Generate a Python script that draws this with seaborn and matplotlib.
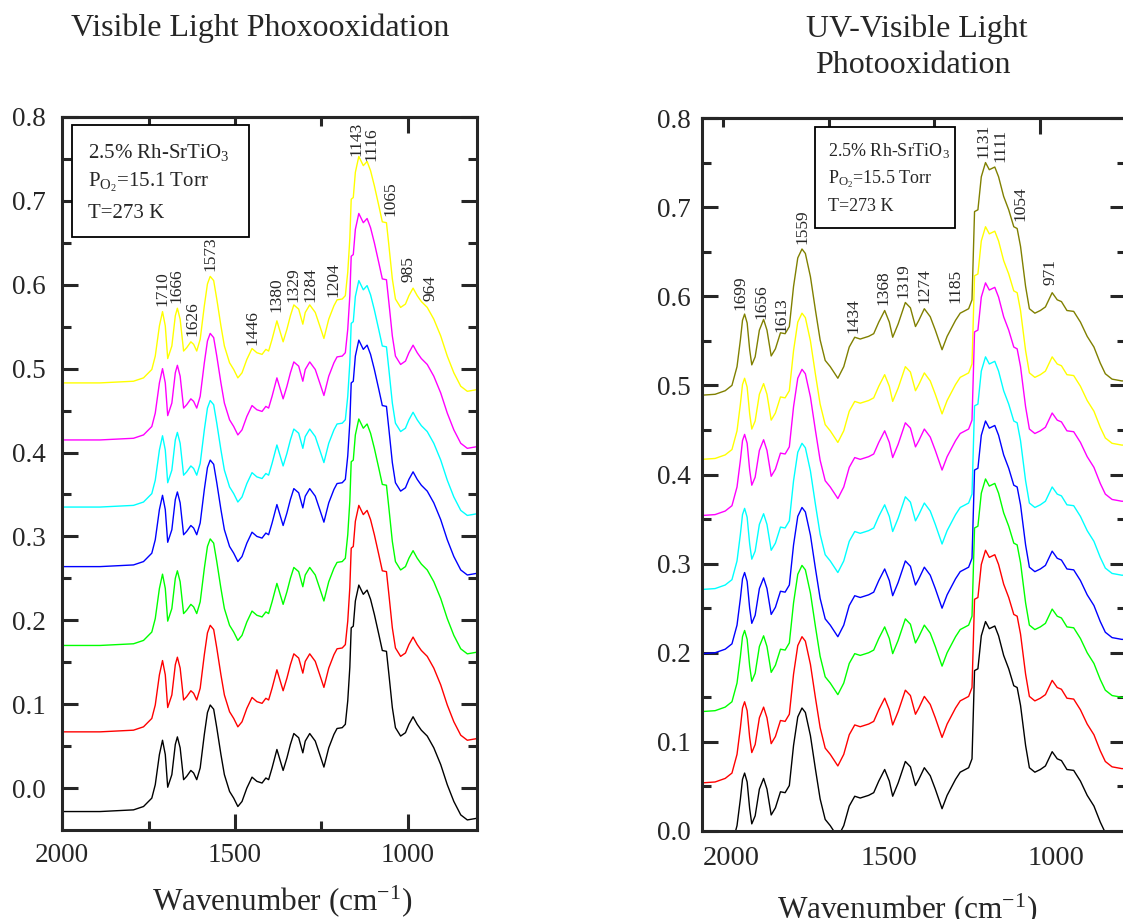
import numpy as np
import matplotlib
matplotlib.use('Agg')
import matplotlib.pyplot as plt
import seaborn as sns
from matplotlib.patches import Rectangle

# ---------------- data ----------------
# Left panel: visible light photooxidation (top spectrum, yellow)
left_wavenumber = [2000, 1891, 1794, 1765, 1741, 1731, 1719, 1710, 1702, 1695, 1683, 1673, 1667, 1659,
                   1649, 1640, 1628, 1620, 1611, 1601, 1589, 1580, 1572, 1562, 1553, 1541, 1531, 1516,
                   1504, 1492, 1480, 1466, 1451, 1437, 1422, 1411, 1403, 1393, 1379, 1361, 1350, 1340,
                   1330, 1316, 1304, 1297, 1284, 1268, 1255, 1243, 1229, 1214, 1205, 1190, 1181, 1174,
                   1168, 1164, 1158, 1152, 1142, 1129, 1118, 1108, 1097, 1084, 1074, 1062, 1055, 1045,
                   1036, 1021, 1007, 997, 985, 973, 961, 944, 925, 905, 886, 867, 847, 828, 800]
left_top_absorbance = [0.483, 0.483, 0.485, 0.489, 0.499, 0.515, 0.551, 0.568, 0.551, 0.512, 0.527, 0.563,
                       0.572, 0.559, 0.521, 0.525, 0.532, 0.529, 0.521, 0.535, 0.575, 0.601, 0.610, 0.605,
                       0.583, 0.551, 0.527, 0.507, 0.499, 0.489, 0.495, 0.511, 0.524, 0.519, 0.517, 0.523,
                       0.521, 0.535, 0.557, 0.532, 0.547, 0.563, 0.576, 0.571, 0.553, 0.567, 0.576, 0.567,
                       0.551, 0.536, 0.559, 0.575, 0.582, 0.583, 0.587, 0.615, 0.655, 0.702, 0.704, 0.734,
                       0.753, 0.742, 0.747, 0.736, 0.718, 0.694, 0.675, 0.674, 0.647, 0.607, 0.583, 0.573,
                       0.577, 0.587, 0.596, 0.587, 0.580, 0.573, 0.559, 0.539, 0.515, 0.495, 0.479, 0.473,
                       0.475]
left_colors = ['#ffff00', '#ff00ff', '#00ffff', '#0000ff', '#00ff00', '#ff0000', '#000000']
left_offsets = [0.0, -0.068, -0.148, -0.219, -0.313, -0.416, -0.511]
left_peak_labels = ['1710', '1666', '1626', '1573', '1446', '1380', '1329', '1284', '1204',
                    '1143', '1116', '1065', '985', '964']
left_peak_label_x = [1710, 1669, 1623, 1570, 1451, 1381, 1332, 1282, 1214, 1148, 1104, 1050, 997, 934]
left_peak_label_y = [0.575, 0.578, 0.539, 0.617, 0.528, 0.567, 0.579, 0.579, 0.586, 0.754, 0.748,
                     0.682, 0.603, 0.581]

# Right panel: UV-visible light photooxidation (top spectrum, olive)
right_wavenumber = [1800, 1769, 1745, 1729, 1717, 1709, 1704, 1699, 1693, 1687, 1682, 1674, 1664, 1654,
                    1646, 1636, 1626, 1614, 1603, 1593, 1583, 1573, 1563, 1555, 1543, 1531, 1520, 1508,
                    1496, 1478, 1464, 1451, 1438, 1425, 1405, 1393, 1381, 1367, 1356, 1348, 1335, 1318,
                    1306, 1294, 1286, 1273, 1259, 1247, 1231, 1219, 1199, 1188, 1176, 1168, 1160, 1154,
                    1146, 1138, 1128, 1119, 1106, 1097, 1085, 1073, 1061, 1053, 1045, 1033, 1024, 1011,
                    998, 986, 970, 958, 948, 935, 919, 903, 887, 871, 856, 844, 828, 805, 795]
right_top_absorbance = [0.489, 0.490, 0.494, 0.500, 0.521, 0.551, 0.573, 0.580, 0.570, 0.540, 0.523,
                        0.532, 0.562, 0.574, 0.562, 0.533, 0.541, 0.559, 0.558, 0.566, 0.611, 0.643,
                        0.653, 0.648, 0.622, 0.584, 0.551, 0.528, 0.521, 0.508, 0.521, 0.543, 0.554,
                        0.552, 0.555, 0.558, 0.571, 0.584, 0.571, 0.554, 0.569, 0.593, 0.587, 0.566,
                        0.573, 0.586, 0.577, 0.562, 0.540, 0.555, 0.573, 0.581, 0.584, 0.586, 0.596,
                        0.695, 0.697, 0.734, 0.750, 0.742, 0.745, 0.734, 0.712, 0.697, 0.678, 0.676,
                        0.656, 0.611, 0.586, 0.581, 0.584, 0.588, 0.604, 0.596, 0.594, 0.584, 0.583,
                        0.571, 0.555, 0.543, 0.525, 0.513, 0.507, 0.505, 0.505]
right_colors = ['#808000', '#ffff00', '#ff00ff', '#00ffff', '#0000ff', '#00ff00', '#ff0000', '#000000']
right_offsets = [0.0, -0.072, -0.135, -0.218, -0.290, -0.355, -0.435, -0.515]
right_peak_labels = ['1699', '1656', '1613', '1559', '1434', '1368', '1319', '1274', '1185',
                     '1131', '1111', '1054', '971']
right_peak_label_x = [1709, 1658, 1612, 1563, 1440, 1369, 1322, 1272, 1199, 1133, 1092, 1045, 974]
right_peak_label_y = [0.585, 0.575, 0.560, 0.659, 0.559, 0.590, 0.598, 0.592, 0.592, 0.755, 0.751,
                      0.684, 0.613]

y_tick_values = [0.0, 0.1, 0.2, 0.3, 0.4, 0.5, 0.6, 0.7, 0.8]
y_tick_labels = ['0.0', '0.1', '0.2', '0.3', '0.4', '0.5', '0.6', '0.7', '0.8']
left_x_tick_labels = ['2000', '1500', '1000']
right_x_tick_labels = ['2000', '1500', '1000']

# ---------------- style ----------------
W, H = 1123, 919
sns.set_style('ticks')
plt.rcParams['font.family'] = ['Liberation Serif', 'DejaVu Serif']
plt.rcParams['mathtext.fontset'] = 'custom'
plt.rcParams['mathtext.rm'] = 'Liberation Serif'
plt.rcParams['mathtext.it'] = 'Liberation Serif:italic'
plt.rcParams['mathtext.bf'] = 'Liberation Serif:bold'

fig = plt.figure(figsize=(W / 100, H / 100), dpi=100)


def rect(x0, y0, x1, y1):
    return [x0 / W, 1 - y1 / H, (x1 - x0) / W, (y1 - y0) / H]


axL = fig.add_axes(rect(62.3, 117, 477, 830))
axR = fig.add_axes(rect(702, 118, 1126, 831))

SPW = 2.2
MAJ, MIN = 11.5, 6.5


def draw_panel(ax, wn, top, colors, offsets):
    wn = np.asarray(wn, dtype=float)
    top = np.asarray(top, dtype=float)
    for c, off in zip(colors, offsets):
        sns.lineplot(x=wn, y=top + off, ax=ax, color=c, linewidth=1.0,
                     estimator=None, sort=False, legend=False)


draw_panel(axL, left_wavenumber, left_top_absorbance, left_colors, left_offsets)
draw_panel(axR, right_wavenumber, right_top_absorbance, right_colors, right_offsets)

for ax in (axL, axR):
    for s in ax.spines.values():
        s.set_linewidth(SPW)
        s.set_visible(True)
    ax.set_ylabel('')
    ax.set_xlabel('')
    ax.set_yticks(y_tick_values, y_tick_labels)
    ax.set_yticks(np.arange(0.05, 0.8, 0.1), minor=True)
    ax.tick_params(axis='y', which='both', direction='in', width=SPW, left=True, right=True,
                   labelsize=19.5)
    ax.tick_params(axis='y', which='major', length=MAJ)
    ax.tick_params(axis='y', which='minor', length=MIN)

# left panel axes
axL.set_xlim(2000, 800)
axL.set_ylim(-0.05, 0.8)
axL.set_xticks([2000, 1500, 1000], left_x_tick_labels)
axL.set_xticks([1750, 1250], minor=True)
axL.tick_params(axis='x', which='both', direction='in', width=SPW, top=False, bottom=True,
                labelsize=19.5, pad=9)
axL.tick_params(axis='x', which='major', length=MAJ)
axL.tick_params(axis='x', which='minor', length=MIN)
axL.tick_params(axis='y', pad=12)

# right panel axes
axR.set_xlim(1800, 795)
axR.set_ylim(0, 0.8)
axR.set_xticks([1730, 1357, 961], right_x_tick_labels)
axR.tick_params(axis='x', which='both', length=0, top=False, bottom=True, labelsize=20.5, pad=11)
axR.tick_params(axis='y', pad=8)

for ax in (axL, axR):
    sec = ax.secondary_xaxis('top')
    sec.set_xticks([1000])
    sec.set_xticks([1750, 1500, 1250], minor=True)
    sec.tick_params(axis='x', which='both', direction='in', width=SPW, labeltop=False)
    sec.tick_params(axis='x', which='major', length=MAJ)
    sec.tick_params(axis='x', which='minor', length=MIN)
    sec.spines['top'].set_linewidth(SPW)

# peak labels
for t, x, y in zip(left_peak_labels, left_peak_label_x, left_peak_label_y):
    axL.text(x, y, t, rotation=90, ha='center', va='bottom', fontsize=12.5, zorder=6)
for t, x, y in zip(right_peak_labels, right_peak_label_x, right_peak_label_y):
    axR.text(x, y, t, rotation=90, ha='center', va='bottom', fontsize=12.5, zorder=6)

# info boxes
axL.add_patch(Rectangle((0.0234, 0.8317), 0.4266, 0.1571, transform=axL.transAxes,
                        facecolor='white', edgecolor='black', linewidth=1.3, zorder=7))
for txt, yy in zip([r'2.5% Rh-SrTiO$_3$', r'P$_{\mathrm{O}_2}$=15.1 Torr', 'T=273 K'],
                   [0.9421, 0.9014, 0.8579]):
    axL.text(0.0627, yy, txt, transform=axL.transAxes, ha='left', va='baseline',
             fontsize=15, zorder=8)

axR.add_patch(Rectangle((0.2665, 0.8457), 0.3302, 0.1417, transform=axR.transAxes,
                        facecolor='white', edgecolor='black', linewidth=1.3, zorder=7))
for txt, yy in zip([r'2.5% Rh-SrTiO$_3$', r'P$_{\mathrm{O}_2}$=15.5 Torr', 'T=273 K'],
                   [0.9457, 0.9084, 0.8696]):
    axR.text(0.2979, yy, txt, transform=axR.transAxes, ha='left', va='baseline',
             fontsize=13, zorder=8)

# titles
axL.text(0.4767, 1.1136, 'Visible Light Phoxooxidation', transform=axL.transAxes,
         ha='center', va='baseline', fontsize=23)
axR.text(0.506, 1.1136, 'UV-Visible Light', transform=axR.transAxes,
         ha='center', va='baseline', fontsize=23)
axR.text(0.4965, 1.0631, 'Photooxidation', transform=axR.transAxes,
         ha='center', va='baseline', fontsize=23)

# x labels
axL.set_xlabel(r'Wavenumber (cm$^{\mathrm{-1}}$)', fontsize=22.5)
axL.xaxis.set_label_coords(0.53, -0.1122)
axL.xaxis.label.set_va('baseline')
axR.set_xlabel(r'Wavenumber (cm$^{\mathrm{-1}}$)', fontsize=22.5)
axR.xaxis.set_label_coords(0.4835, -0.1220)
axR.xaxis.label.set_va('baseline')

fig.savefig('out.png', dpi=100)
